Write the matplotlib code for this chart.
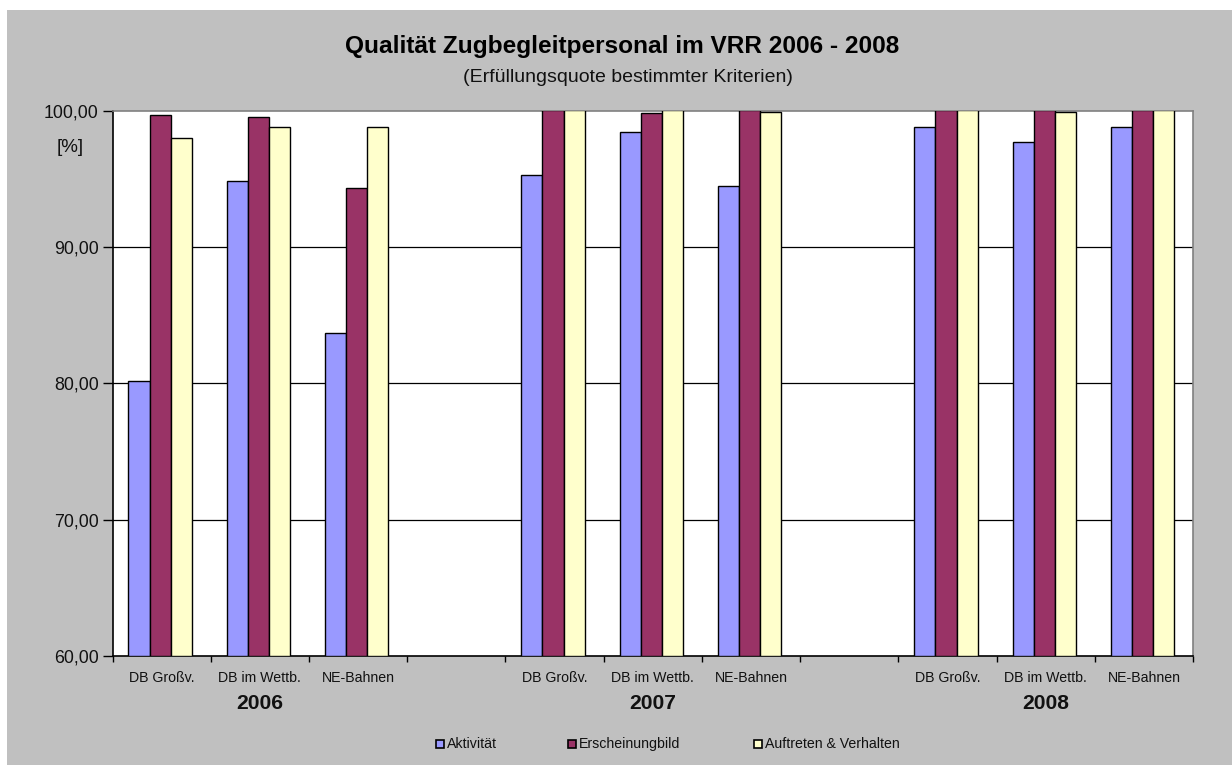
import matplotlib
matplotlib.use("Agg")
import matplotlib.pyplot as plt
from matplotlib.patches import Rectangle
import numpy as np

plt.rcParams['font.family'] = ['Liberation Sans', 'DejaVu Sans']

years = ["2006", "2007", "2008"]
operators = ["DB Großv.", "DB im Wettb.", "NE-Bahnen"]
series_names = ["Aktivität", "Erscheinungbild", "Auftreten & Verhalten"]
aktivitaet = [80.2, 94.8, 83.7, 95.3, 98.4, 94.5, 98.8, 97.7, 98.8]
erscheinungbild = [99.7, 99.5, 94.3, 100.0, 99.8, 100.0, 100.0, 100.0, 100.0]
auftreten = [98.0, 98.8, 98.8, 100.0, 100.0, 99.9, 100.0, 99.9, 100.0]
yticks = [60, 70, 80, 90, 100]
colors = ["#9999FF", "#993366", "#FFFFCC"]

W, H = 1232, 765
fig = plt.figure(figsize=(W / 100, H / 100), dpi=100)
fig.patch.set_facecolor("white")
fig.patches.append(Rectangle((7 / W, 0), 1 - 7 / W, 1 - 10 / H, transform=fig.transFigure,
                             facecolor="#C0C0C0", edgecolor="none", zorder=-10))

left, right, top, bottom = 112.5, 1193, 110.5, 656
ax = fig.add_axes([left / W, 1 - bottom / H, (right - left) / W, (bottom - top) / H])
ax.set_facecolor("white")

# slot positions: 3 groups of 3 with one empty slot between groups
positions = []
for g in range(3):
    for k in range(3):
        positions.append(g * 4 + k)
positions = np.array(positions, dtype=float)

bw = 0.215
for i, (vals, c) in enumerate(zip([aktivitaet, erscheinungbild, auftreten], colors)):
    ax.bar(positions + (i - 1) * bw - 0.015, np.array(vals) - 60, bottom=60, width=bw,
           color=c, edgecolor="black", linewidth=1.0, zorder=3, label=series_names[i])

ax.set_xlim(-0.5, 10.5)
ax.set_ylim(60, 100)
ax.set_yticks(yticks)
ax.set_yticklabels([f"{v:.2f}".replace(".", ",") for v in yticks], fontsize=12.8, color="#111111")
for y in yticks[1:-1]:
    ax.axhline(y, color="black", linewidth=0.9, zorder=1)

ax.set_xticks(np.arange(-0.5, 11.0, 1.0))
ax.set_xticklabels([])
ax.tick_params(axis="x", direction="out", length=4, width=1, color="black")
ax.tick_params(axis="y", direction="out", length=7, width=1, color="black", pad=3)

for s in ["left", "bottom"]:
    ax.spines[s].set_color("black")
    ax.spines[s].set_linewidth(1.2)
for s in ["top", "right"]:
    ax.spines[s].set_color("#808080")
    ax.spines[s].set_linewidth(1.2)

# category labels
for g in range(3):
    for k in range(3):
        ax.text(g * 4 + k, -0.028, operators[k], transform=ax.get_xaxis_transform(),
                ha="center", va="top", fontsize=10.2, color="#111111")
    ax.text(g * 4 + 1, -0.069, years[g], transform=ax.get_xaxis_transform(),
            ha="center", va="top", fontsize=15.2, fontweight="bold", color="#111111")

fig.text(70 / W, 1 - 148 / H, "[%]", ha="center", va="center", fontsize=13.5, color="#111111")
fig.text(622 / W, 1 - 47 / H, "Qualität Zugbegleitpersonal im VRR 2006 - 2008",
         ha="center", va="center", fontsize=17.6, fontweight="bold", color="black")
fig.text(628 / W, 1 - 77 / H, "(Erfüllungsquote bestimmter Kriterien)",
         ha="center", va="center", fontsize=14, color="#111111")

# legend
leg_x = [436, 568, 754]
for x, name, c in zip(leg_x, series_names, colors):
    fig.patches.append(Rectangle((x / W, 1 - 748 / H), 8 / W, 8 / H, transform=fig.transFigure,
                                 facecolor=c, edgecolor="black", linewidth=1.2))
    fig.text((x + 11) / W, 1 - 744 / H, name, ha="left", va="center", fontsize=10.2, color="#111111")

fig.savefig("out.png", dpi=100, facecolor=fig.get_facecolor())
